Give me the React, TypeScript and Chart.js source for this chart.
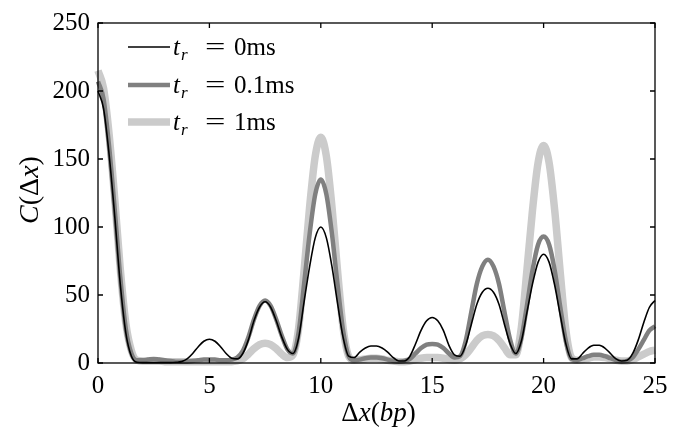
import React, { useEffect, useRef } from 'react';
import { Chart, registerables } from 'chart.js';

Chart.register(...registerables);

const deltaX = [
  0, 0.25, 0.5, 0.75, 1, 1.25, 1.5, 1.75, 2, 2.25, 2.5, 2.75, 3, 3.25, 3.5, 3.75,
  4, 4.25, 4.5, 4.75, 5, 5.25, 5.5, 5.75, 6, 6.25, 6.5, 6.75, 7, 7.25, 7.5, 7.75,
  8, 8.25, 8.5, 8.75, 9, 9.25, 9.5, 9.75, 10, 10.25, 10.5, 10.75, 11, 11.25, 11.5, 11.75,
  12, 12.25, 12.5, 12.75, 13, 13.25, 13.5, 13.75, 14, 14.25, 14.5, 14.75, 15, 15.25, 15.5, 15.75,
  16, 16.25, 16.5, 16.75, 17, 17.25, 17.5, 17.75, 18, 18.25, 18.5, 18.75, 19, 19.25, 19.5, 19.75,
  20, 20.25, 20.5, 20.75, 21, 21.25, 21.5, 21.75, 22, 22.25, 22.5, 22.75, 23, 23.25, 23.5, 23.75,
  24, 24.25, 24.5, 24.75, 25,
];

const tr0ms = [
  200, 187, 153, 108, 58, 22, 5, 0.5, 0.3, 0.3, 0.3, 0.3, 0.3, 0.3, 0.5, 1,
  3, 7, 12, 16, 17.5, 16, 12, 7, 3.5, 3, 7, 17, 31, 41, 45, 41,
  31, 19, 10, 7, 18, 45, 71, 92, 100, 92, 71, 44, 19, 5, 4, 8,
  11, 12.5, 12.5, 11, 8, 4, 1.5, 1.5, 5, 14, 24, 31, 33.5, 31, 24, 13,
  6, 5, 13, 28, 43, 52, 55, 52, 43, 28, 14, 7, 16, 37, 58, 74,
  80, 74, 57, 35, 14, 3, 3, 7, 11, 13, 13, 11, 7, 3, 1.5, 2,
  7, 17, 30, 41, 46,
];

const tr01ms = [
  207, 194, 159, 113, 63, 25, 7, 2, 2, 2.5, 3, 2.5, 2, 1.5, 1, 1,
  1, 1.5, 2, 2.5, 2.5, 2.5, 2, 2, 2.5, 4, 9, 19, 32, 42, 46, 42,
  32, 20, 10, 7, 22, 58, 95, 124, 135, 124, 95, 58, 24, 5, 2, 2.5,
  3.5, 4, 4, 3.5, 2.5, 1.5, 1, 1.5, 3, 7, 11, 13.5, 14, 13.5, 11, 7,
  4, 5, 16, 37, 58, 71, 76, 71, 58, 37, 17, 7, 18, 42, 68, 87,
  93, 87, 68, 41, 16, 3, 2, 3.5, 5, 6, 6, 5, 3.5, 2, 1, 1.5,
  4, 10, 17, 24, 27,
];

const tr1ms = [
  215, 202, 168, 121, 69, 29, 9, 2, 1.5, 1.5, 1.5, 1.5, 1, 1, 1, 1,
  1, 1, 1, 1, 1, 1, 1, 1, 1, 1.5, 3, 6.5, 10.5, 13.5, 14.5, 13.5,
  10.5, 6.5, 4, 6, 25, 68, 115, 152, 166, 152, 115, 68, 26, 5, 2, 2.5,
  3, 3.5, 3.5, 3, 2, 1.5, 1, 1, 1.5, 2.5, 3.5, 4, 4, 4, 3.5, 2.5,
  2, 3, 6, 11, 16.5, 20, 21, 20, 16.5, 11, 6, 6, 26, 68, 112, 147,
  160, 147, 112, 66, 24, 4, 2, 2.5, 3.5, 4.5, 4.5, 4, 3, 2, 1.5, 1.5,
  2.5, 4.5, 6.5, 8.5, 9.5,
];

const legendValues = ['0ms', '0.1ms', '1ms'];
const xTickValues = [0, 5, 10, 15, 20, 25];
const yTickValues = [0, 50, 100, 150, 200, 250];

const SERIF = '"Liberation Serif", "DejaVu Serif", "Noto Serif", "Times New Roman", serif';
const COLORS = ['#000000', '#808080', '#cbcbcb'];
const WIDTHS = [1.6, 4.5, 7.5];

type Part = { t: string; italic?: boolean; size: number; dy?: number; gap?: number };

function measureParts(ctx: CanvasRenderingContext2D, parts: Part[]) {
  let w = 0;
  for (const p of parts) {
    ctx.font = `${p.italic ? 'italic ' : ''}${p.size}px ${SERIF}`;
    w += ctx.measureText(p.t).width + (p.gap || 0);
  }
  return w;
}

function drawParts(ctx: CanvasRenderingContext2D, parts: Part[], x: number, y: number) {
  let cx = x;
  ctx.textBaseline = 'alphabetic';
  ctx.textAlign = 'left';
  for (const p of parts) {
    ctx.font = `${p.italic ? 'italic ' : ''}${p.size}px ${SERIF}`;
    ctx.fillText(p.t, cx, y + (p.dy || 0));
    cx += ctx.measureText(p.t).width + (p.gap || 0);
  }
}

const decorPlugin = {
  id: 'decor',
  afterDatasetsDraw(chart: any) {
    const { ctx, chartArea } = chart;
    const { left, right, top, bottom } = chartArea;
    const xs = chart.scales.x;
    const ys = chart.scales.y;
    ctx.save();
    ctx.strokeStyle = '#000';
    ctx.lineWidth = 1.3;
    ctx.strokeRect(left, top, right - left, bottom - top);
    const tl = 5;
    ctx.beginPath();
    for (const v of xTickValues) {
      const px = xs.getPixelForValue(v);
      ctx.moveTo(px, bottom);
      ctx.lineTo(px, bottom - tl);
      ctx.moveTo(px, top);
      ctx.lineTo(px, top + tl);
    }
    for (const v of yTickValues) {
      const py = ys.getPixelForValue(v);
      ctx.moveTo(left, py);
      ctx.lineTo(left + tl, py);
      ctx.moveTo(right, py);
      ctx.lineTo(right - tl, py);
    }
    ctx.stroke();

    // legend
    ctx.fillStyle = '#000';
    const rows = [47, 85, 122];
    legendValues.forEach((val, i) => {
      const ly = rows[i];
      ctx.beginPath();
      ctx.strokeStyle = COLORS[i];
      ctx.lineWidth = WIDTHS[i];
      ctx.lineCap = 'butt';
      ctx.moveTo(128, ly);
      ctx.lineTo(170, ly);
      ctx.stroke();
      const base = ly + 8;
      ctx.textBaseline = 'alphabetic';
      ctx.textAlign = 'left';
      ctx.font = `italic 25px ${SERIF}`;
      ctx.fillText('t', 173, base);
      ctx.font = `italic 17px ${SERIF}`;
      ctx.fillText('r', 181, base + 5);
      ctx.save();
      ctx.translate(205, base);
      ctx.scale(1.45, 1);
      ctx.font = `25px ${SERIF}`;
      ctx.fillText('=', 0, 0);
      ctx.restore();
      ctx.font = `25px ${SERIF}`;
      ctx.fillText(val, 234, base);
    });

    // axis titles
    const xt: Part[] = [
      { t: 'Δ', size: 27 },
      { t: 'x', italic: true, size: 27 },
      { t: '(', size: 27 },
      { t: 'bp', italic: true, size: 27 },
      { t: ')', size: 27 },
    ];
    const xw = measureParts(ctx, xt);
    drawParts(ctx, xt, (left + right) / 2 - xw / 2 + 2, 421);

    const yt: Part[] = [
      { t: 'C', italic: true, size: 28 },
      { t: '(', size: 28 },
      { t: 'Δ', size: 28 },
      { t: 'x', italic: true, size: 28 },
      { t: ')', size: 28 },
    ];
    const yw = measureParts(ctx, yt);
    ctx.translate(38, 190);
    ctx.rotate(-Math.PI / 2);
    drawParts(ctx, yt, -yw / 2, 0);
    ctx.restore();
  },
};

export default function App() {
  const ref = useRef<HTMLCanvasElement | null>(null);

  useEffect(() => {
    document.body.style.margin = '0';
    if (!ref.current) return;
    const series = [tr0ms, tr01ms, tr1ms];
    const chart = new Chart(ref.current, {
      type: 'line',
      data: {
        datasets: series.map((s, i) => ({
          label: legendValues[i],
          data: deltaX.map((x, j) => ({ x, y: s[j] })),
          borderColor: COLORS[i],
          borderWidth: WIDTHS[i],
          pointRadius: 0,
          fill: false,
          cubicInterpolationMode: 'monotone' as const,
          clip: false as any,
        })),
      },
      options: {
        animation: false,
        responsive: true,
        maintainAspectRatio: false,
        layout: { padding: { left: 0, right: 26, top: 20, bottom: 0 } },
        plugins: {
          legend: { display: false },
          tooltip: { enabled: false },
        },
        scales: {
          x: {
            type: 'linear',
            min: 0,
            max: 25,
            afterFit: (s: any) => { s.height = 70; },
            grid: { display: false, drawTicks: false },
            border: { display: false },
            ticks: {
              stepSize: 5,
              padding: 8,
              color: '#000',
              font: { family: SERIF, size: 25 },
            },
          },
          y: {
            type: 'linear',
            min: 0,
            max: 250,
            afterFit: (s: any) => { s.width = 98; },
            grid: { display: false, drawTicks: false },
            border: { display: false },
            ticks: {
              stepSize: 50,
              padding: 8,
              color: '#000',
              font: { family: SERIF, size: 25 },
            },
          },
        },
      },
      plugins: [decorPlugin],
    });
    return () => chart.destroy();
  }, []);

  return (
    <div style={{ position: 'absolute', left: 0, top: 0, width: 681, height: 433, background: '#fff' }}>
      <canvas ref={ref} />
    </div>
  );
}
